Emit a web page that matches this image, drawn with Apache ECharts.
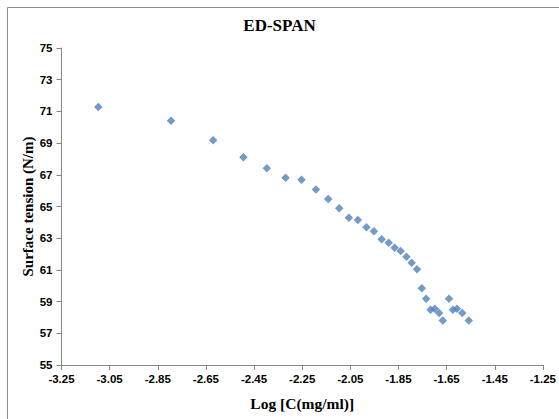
<!DOCTYPE html>
<html>
<head>
<meta charset="utf-8">
<script src="https://cdn.jsdelivr.net/npm/echarts@6/dist/echarts.min.js"></script>
<style>
  html, body { margin: 0; padding: 0; background: #fff; }
  #chart { width: 559px; height: 419px; }
</style>
</head>
<body>
<div id="chart"></div>
<script>
// log concentration (x) and surface tension (y)
const logConc = [
  -3.097, -2.795, -2.620, -2.494, -2.397, -2.319, -2.253, -2.193, -2.142, -2.096,
  -2.056, -2.019, -1.983, -1.952, -1.920, -1.891, -1.866, -1.841, -1.817, -1.795,
  -1.773, -1.753, -1.735, -1.717, -1.699, -1.681, -1.666, -1.640, -1.624, -1.607,
  -1.585, -1.558
];
const surfTension = [
  71.28, 70.41, 69.18, 68.10, 67.41, 66.82, 66.69, 66.08, 65.47, 64.89,
  64.29, 64.15, 63.69, 63.44, 62.93, 62.72, 62.40, 62.19, 61.83, 61.45,
  61.04, 59.84, 59.18, 58.49, 58.55, 58.28, 57.80, 59.18, 58.49, 58.55,
  58.28, 57.80
];

const points = logConc.map((x, i) => [x, surfTension[i]]);

const chart = echarts.init(document.getElementById('chart'), null, {renderer: 'svg'});
const axisGray = '#868686';
const serif = '"Liberation Serif", "DejaVu Serif", serif';
const sans = '"Liberation Sans", Arial, sans-serif';

chart.setOption({
  animation: false,
  graphic: [{
    type: 'rect',
    shape: {x: 7.5, y: 7.5, width: 700, height: 700},
    style: {fill: 'none', stroke: '#8c8c8c', lineWidth: 1},
    silent: true
  }],
  title: {
    text: 'ED-SPAN',
    left: 'center',
    top: 12,
    textStyle: {fontFamily: serif, fontWeight: 'bold', fontSize: 17, color: '#000'}
  },
  grid: {left: 61.5, right: 11.5, top: 48, bottom: 54},
  xAxis: {
    type: 'value',
    min: -3.25,
    max: -1.25,
    interval: 0.2,
    name: 'Log [C(mg/ml)]',
    nameLocation: 'middle',
    nameGap: 30,
    nameTextStyle: {fontFamily: serif, fontWeight: 'bold', fontSize: 15.5, color: '#000'},
    axisLine: {show: true, lineStyle: {color: axisGray}},
    axisTick: {show: true, length: 5, lineStyle: {color: axisGray}},
    splitLine: {show: false},
    axisLabel: {
      fontFamily: sans, fontWeight: 'bold', fontSize: 11.5, color: '#000', margin: 8,
      formatter: v => v.toFixed(2)
    }
  },
  yAxis: {
    type: 'value',
    min: 55,
    max: 75,
    interval: 2,
    name: 'Surface tension (N/m)',
    nameLocation: 'middle',
    nameGap: 26,
    nameMoveOverlap: false,
    nameTextStyle: {fontFamily: serif, fontWeight: 'bold', fontSize: 15, color: '#000'},
    axisLine: {show: true, lineStyle: {color: axisGray}},
    axisTick: {show: true, length: 5, lineStyle: {color: axisGray}},
    splitLine: {show: false},
    axisLabel: {fontFamily: sans, fontWeight: 'bold', fontSize: 11.5, color: '#000', margin: 9}
  },
  series: [{
    type: 'scatter',
    data: points,
    symbol: 'diamond',
    symbolSize: 8.5,
    itemStyle: {color: '#4F81BD'}
  }]
});
</script>
</body>
</html>
